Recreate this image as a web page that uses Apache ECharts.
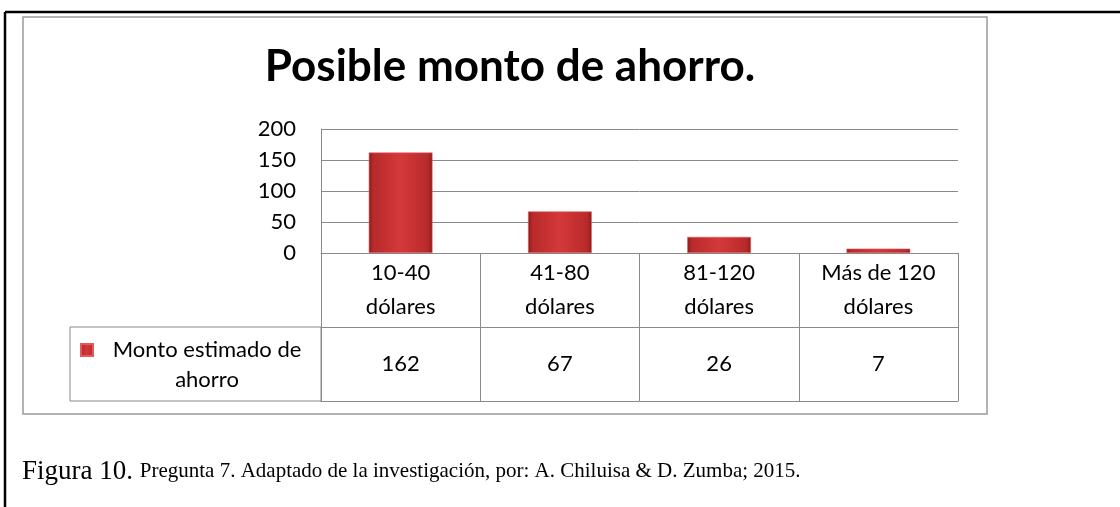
<!DOCTYPE html>
<html>
<head>
<meta charset="utf-8">
<script src="https://cdn.jsdelivr.net/npm/echarts@6/dist/echarts.min.js"></script>
<style>
html,body{margin:0;padding:0;background:#fff;}
#c{width:1120px;height:507px;}
</style>
</head>
<body>
<div id="c"></div>
<script>
var titleText = 'Posible monto de ahorro.';
var categories = ['10-40\ndólares', '41-80\ndólares', '81-120\ndólares', 'Más de 120\ndólares'];
var seriesName = 'Monto estimado de ahorro';
var values = [162, 67, 26, 7];
var yTicks = {min: 0, max: 200, interval: 50};
var captionBold = 'Figura 10.';
var captionRest = 'Pregunta 7. Adaptado de la investigación, por: A. Chiluisa & D. Zumba; 2015.';

var GRID = {left: 321, right: 162, top: 129, bottom: 254};
var W = 1120, H = 507;
var axisY = H - GRID.bottom;      // 253
var rowH = 74;
var tableLeft = 70;
var lineCol = '#8a8a8a';
var font = 'Lato';
var fs = 22;

var chart = echarts.init(document.getElementById('c'), null, {renderer: 'canvas'});

var barColor = new echarts.graphic.LinearGradient(0, 0, 1, 0, [
  {offset: 0, color: '#8a1a1a'},
  {offset: 0.07, color: '#b82a2a'},
  {offset: 0.5, color: '#d5383a'},
  {offset: 0.93, color: '#b82a2a'},
  {offset: 1, color: '#8a1a1a'}
]);

var option = {
  backgroundColor: '#fff',
  animation: false,
  title: {
    text: titleText,
    left: 505, top: 40, textAlign: 'center',
    textStyle: {fontFamily: font, fontWeight: 'bold', fontSize: 44, color: '#000'}
  },
  legend: {
    data: [{name: seriesName, icon: 'rect'}],
    left: 80, top: 309, padding: 0,
    itemWidth: 12, itemHeight: 12,
    itemGap: 0,
    formatter: function () { return '{a| }\n{a|Monto estimado de}\n{a|ahorro}'; },
    textStyle: {
      fontFamily: font, fontSize: fs, color: '#000',
      rich: {a: {fontFamily: font, fontSize: fs, width: 218, align: 'center', lineHeight: 30, color: '#000'}}
    }
  },
  grid: {left: GRID.left, right: GRID.right, top: GRID.top, bottom: GRID.bottom, containLabel: false},
  xAxis: [
    {
      type: 'category', data: categories, position: 'bottom',
      axisLine: {show: true, lineStyle: {color: lineCol, width: 1}},
      axisTick: {show: true, length: rowH * 2, lineStyle: {color: lineCol, width: 1}},
      axisLabel: {fontFamily: font, fontSize: fs, color: '#000', lineHeight: 34, margin: 3, interval: 0}
    },
    {
      type: 'category', data: values.map(String), position: 'bottom', offset: rowH,
      axisLine: {show: true, lineStyle: {color: lineCol, width: 1}},
      axisTick: {show: false},
      axisLabel: {fontFamily: font, fontSize: fs, color: '#000', lineHeight: 22, margin: 26, interval: 0}
    },
    {
      type: 'category', data: categories, position: 'bottom', offset: rowH * 2,
      axisLine: {show: true, lineStyle: {color: lineCol, width: 1}},
      axisTick: {show: false},
      axisLabel: {show: false}
    }
  ],
  yAxis: {
    type: 'value', min: yTicks.min, max: yTicks.max, interval: yTicks.interval,
    axisLine: {show: true, lineStyle: {color: lineCol, width: 1}},
    axisTick: {show: false},
    axisLabel: {fontFamily: font, fontSize: fs, color: '#000', margin: 25},
    splitLine: {show: true, lineStyle: {color: lineCol, width: 1}}
  },
  series: [{
    name: seriesName, type: 'bar', data: values, barWidth: '40%',
    xAxisIndex: 0,
    itemStyle: {color: barColor, borderColor: '#e25a5c', borderWidth: 0.6},
    emphasis: {disabled: true}
  }],
  graphic: [
    {type: 'line', shape: {x1: 5, y1: 12, x2: 5, y2: H}, style: {stroke: '#000', lineWidth: 2.5}, silent: true},
    {type: 'line', shape: {x1: 5, y1: 12, x2: W, y2: 12}, style: {stroke: '#000', lineWidth: 2.5}, silent: true},
    {type: 'rect', shape: {x: 23, y: 17, width: 964, height: 397}, style: {fill: 'none', stroke: '#9a9a9a', lineWidth: 1.5}, silent: true, z: -1},
    {type: 'rect', shape: {x: tableLeft, y: axisY + rowH, width: GRID.left - tableLeft, height: rowH}, style: {fill: 'none', stroke: lineCol, lineWidth: 1}, silent: true},
    {
      type: 'text', left: 22, top: 458, silent: true,
      style: {
        text: '{a|' + captionBold + ' }{b|' + captionRest + '}',
        rich: {
          a: {fontFamily: 'Liberation Serif', fontSize: 27, color: '#000'},
          b: {fontFamily: 'Liberation Serif', fontSize: 21, color: '#000'}
        }
      }
    }
  ]
};
chart.setOption(option);
</script>
</body>
</html>
